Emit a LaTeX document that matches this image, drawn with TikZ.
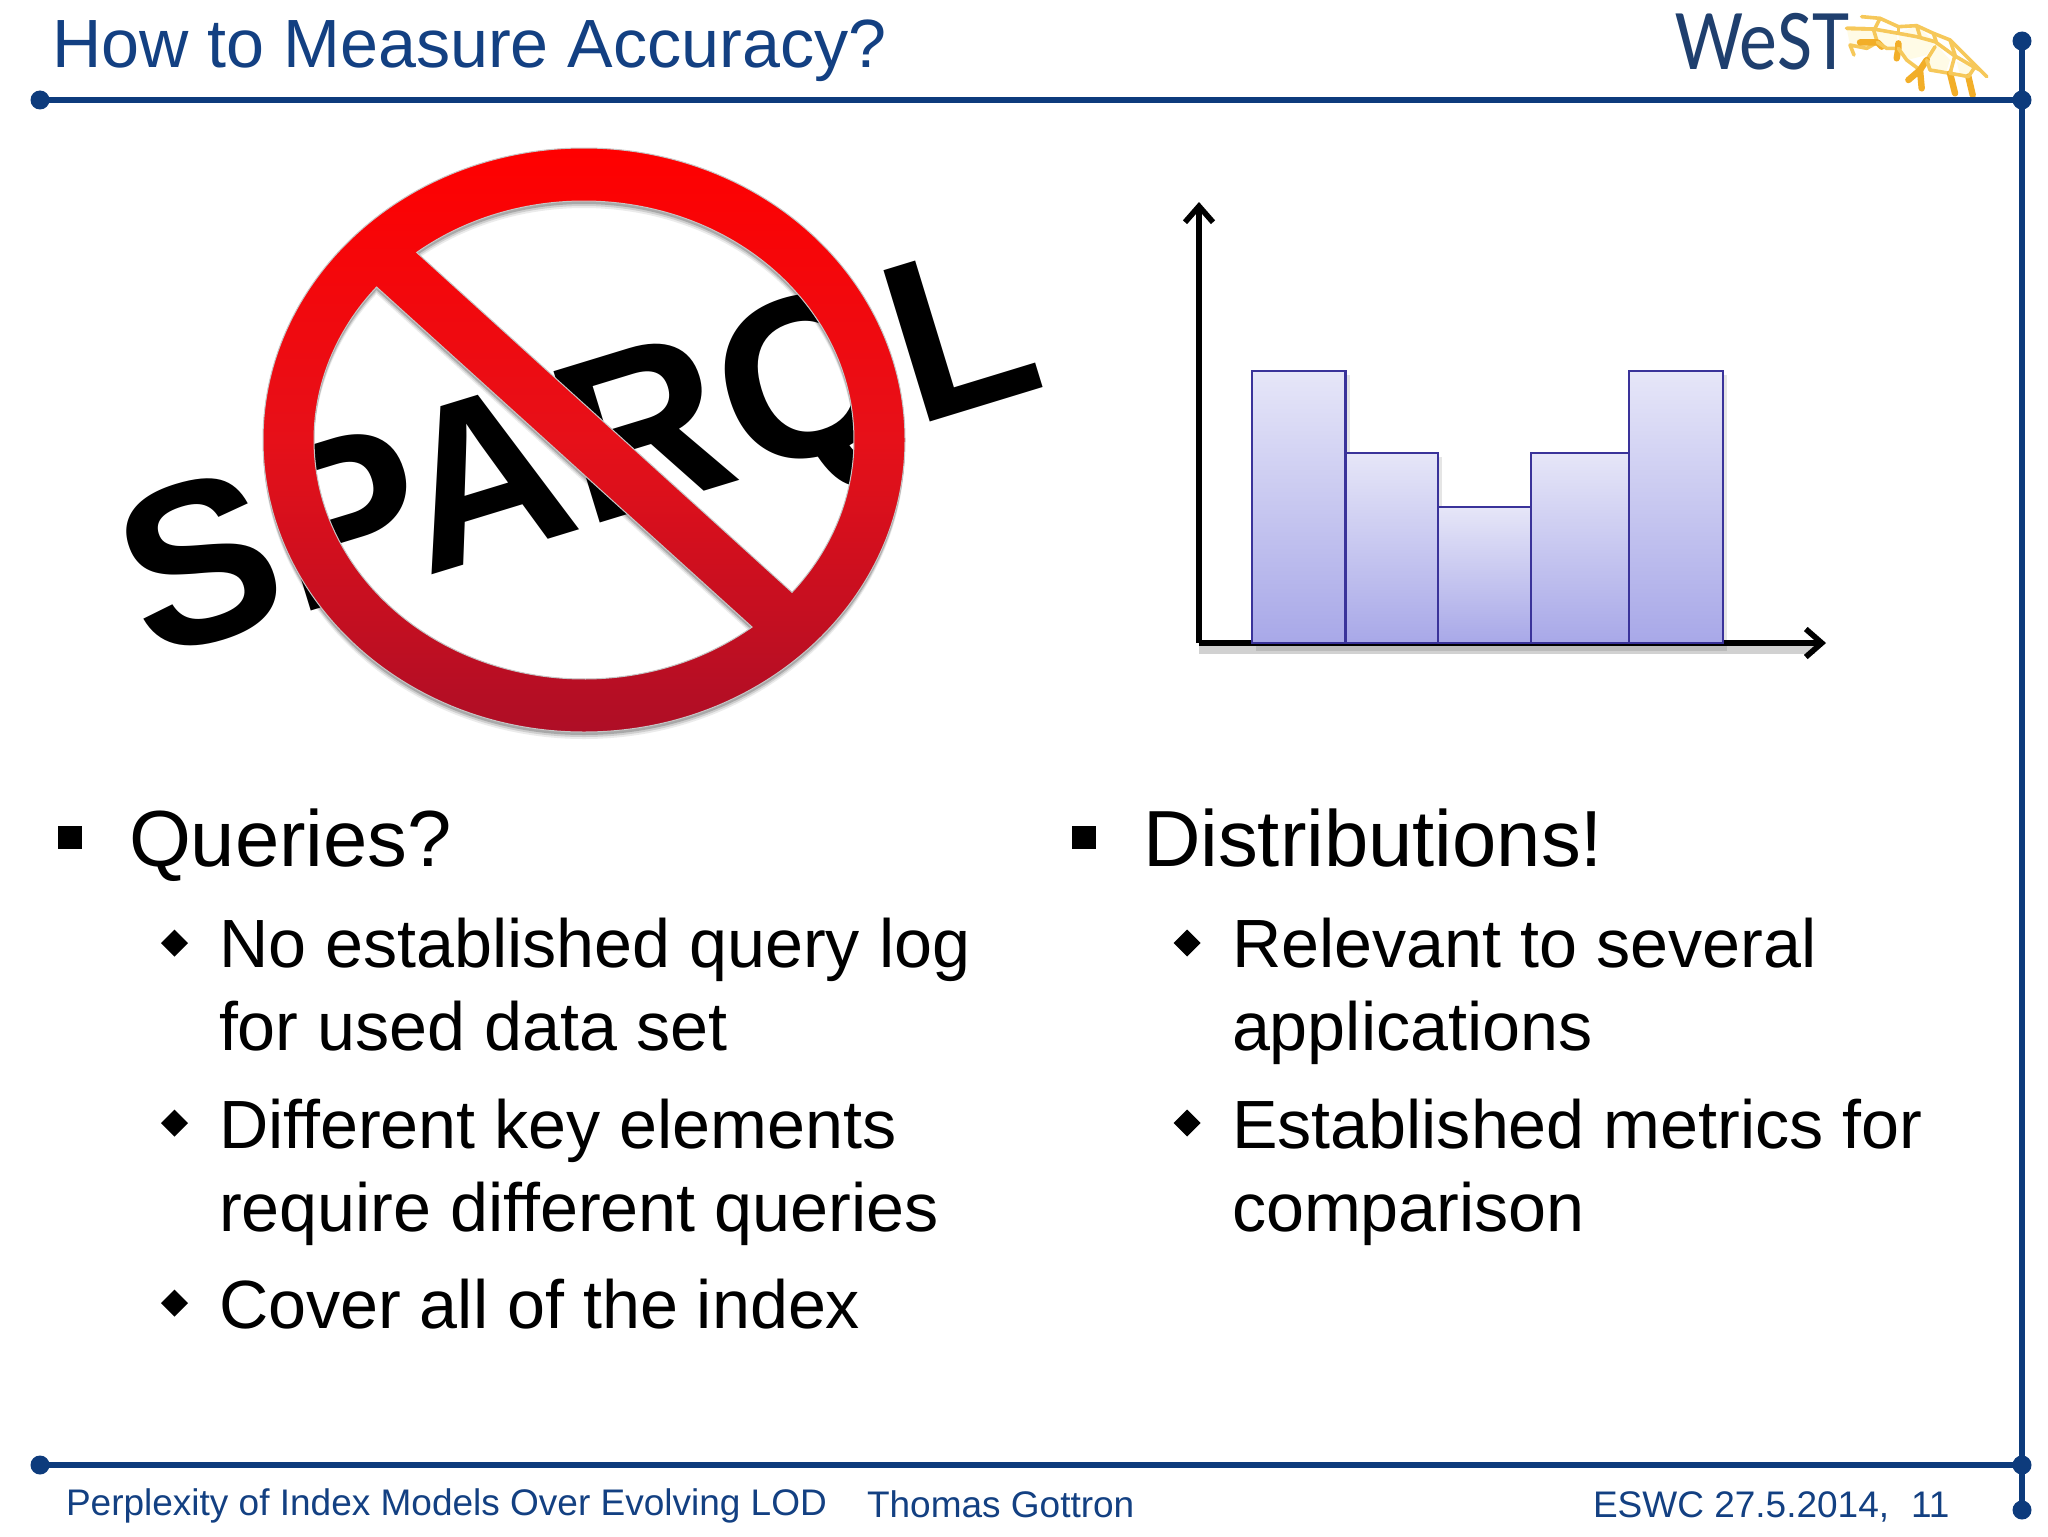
\documentclass[tikz,border=0pt]{standalone}
\usepackage{fontspec}
\setmainfont{Liberation Sans}
\newfontfamily\logofont{Carlito}
\usetikzlibrary{arrows.meta}
\definecolor{navy}{HTML}{0D3B7C}
\definecolor{titleblue}{HTML}{134082}
\definecolor{logonavy}{HTML}{1F3F6E}
\definecolor{barline}{HTML}{3A339A}
\definecolor{net}{HTML}{F2AE28}
\definecolor{netthin}{HTML}{F6C85A}
\definecolor{netcell}{HTML}{FFFBE6}
\definecolor{barfill}{HTML}{A8A8E8}
\definecolor{bartop}{HTML}{E6E6F8}
\definecolor{ringmid}{HTML}{E61019}
\definecolor{ringbot}{HTML}{AE0E26}
\tikzset{
  px/.style={x=0.5pt,y=-0.5pt},
  txt/.style={anchor=base west,inner sep=0pt,outer sep=0pt},
  title/.style={txt,text=titleblue,font=\fontsize{34.13}{40}\selectfont},
  lvlone/.style={txt,text=black,font=\fontsize{39.8}{46}\selectfont},
  lvltwo/.style={txt,text=black,font=\fontsize{34.13}{40}\selectfont},
  foot/.style={txt,text=titleblue,font=\fontsize{18.5}{22}\selectfont},
  rule/.style={draw=navy,line width=3.2pt},
  dot/.style={fill=navy},
  axis/.style={draw=black,line width=3pt,-{Straight Barb[length=8pt,width=14pt,line width=2.8pt]}},
  netthick/.style={draw=net,line width=3.2pt,line cap=round,line join=round},
  netfine/.style={draw=netthin,line width=1.8pt,line cap=round,line join=round},
}
\begin{document}
\begin{tikzpicture}[px]
\useasboundingbox (0,0) rectangle (2048,1536);
\fill[white] (0,0) rectangle (2048,1536);
% logo net
\begin{scope}[shift={(1840,5)},x=0.1667pt,y=-0.1667pt]
\fill[netcell] (20,70) -- (100,75) -- (110,110) -- (80,130) -- (30,120) -- cycle;
\fill[netcell] (105,70) -- (170,90) -- (175,130) -- (140,135) -- (115,100) -- cycle;
\fill[netcell] (175,85) -- (230,62) -- (285,110) -- (260,150) -- (200,165) -- (180,125) -- cycle;
\fill[netcell] (290,120) -- (330,165) -- (320,195) -- (270,195) -- (255,165) -- cycle;
\fill[netcell] (350,170) -- (400,185) -- (390,215) -- (360,210) -- cycle;
\draw[netfine] (65,35) -- (120,40) -- (175,65) -- (230,62) -- (280,85) -- (330,105) -- (390,165) -- (440,215);
\draw[netfine] (20,70) -- (100,72) -- (175,85) -- (230,95) -- (285,110) -- (340,150) -- (400,185) -- (420,195);
\draw[netfine] (120,40) -- (105,70);
\draw[netfine] (175,65) -- (175,85);
\draw[netfine] (230,62) -- (240,95);
\draw[netfine] (280,85) -- (290,115);
\draw[netfine] (330,105) -- (345,150);
\draw[netfine] (20,70) -- (100,72) -- (112,112) -- (80,130) -- (30,120) -- (42,150);
\draw[netthick] (60,112) -- (112,112) -- (125,125);
\draw[netfine] (112,112) -- (140,130) -- (175,130);
\draw[netthick] (175,115) -- (175,130) -- (170,160);
\draw[netfine] (175,130) -- (200,165) -- (240,195) -- (260,165) -- (285,125);
\draw[netthick] (205,225) -- (240,195) -- (245,250);
\draw[netthick] (240,195) -- (260,165);
\draw[netfine] (260,165) -- (270,195) -- (330,205);
\draw[netthick] (330,205) -- (345,265);
\draw[netfine] (330,205) -- (345,150);
\draw[netthick] (385,215) -- (398,270);
\draw[netfine] (330,205) -- (360,210) -- (385,215) -- (405,185);
\end{scope}
% frame
\draw[rule] (40,100) -- (2022,100);
\draw[rule] (40,1465) -- (2022,1465);
\draw[rule] (2022,41) -- (2022,1510);
\foreach \p in {(40,100),(2022,100),(40,1465),(2022,1465),(2022,41),(2022,1510)} \fill[dot] \p circle (9.5);
% title
\node[title] (ttl) at (52,68) {How to Measure Accuracy?};
% logo
\node[txt,text=logonavy,font=\fontsize{38}{44}\logofont] (logo) at (1675,70) {\scalebox{1}[1.14]{WeST}};
% SPARQL
\node[rotate=17,font=\fontsize{115}{126}\selectfont\bfseries,text=black,inner sep=0pt] (sparql) at (583,468) {SPARQL};
% no-sign
\def\signpath{(584,440) ellipse [x radius=321,y radius=292]
  (584,440) ++(-128.3:270 and 239) arc [start angle=-128.3,end angle=39.6,x radius=270,y radius=239] -- cycle
  (584,440) ++(51.5:270 and 239) arc [start angle=51.5,end angle=219.8,x radius=270,y radius=239] -- cycle}
\foreach \d/\o in {7/.08,5/.12,3/.18}{
  \begin{scope}[yshift=-\d*0.5pt]
  \fill[black,opacity=\o,even odd rule] \signpath;
  \end{scope}
}
\begin{scope}
\pgfseteorule
\clip \signpath;
\shade[top color=red,bottom color=ringbot,middle color=ringmid] (200,148) rectangle (1000,733);
\end{scope}
\draw[draw=gray!45,line width=.5pt] \signpath;
% histogram
\foreach \a/\b/\t in {1252/1345.5/371,1345.5/1438/453,1438/1531/507,1531/1629/453,1629/1723/371}{
  \fill[black,opacity=.10] (\a+4,\t+4) rectangle (\b+4,651);
}
\coordinate (xo) at (1199,643);
\coordinate (ytip) at (1199,202);
\coordinate (xtip) at (1826,643);
\fill[black,opacity=.18] (1199,646) rectangle (1815,654);
\draw[axis] (xo) -- (ytip);
\draw[axis] (xo) -- (xtip);
\foreach \a/\b/\t in {1252/1345.5/371,1345.5/1438/453,1438/1531/507,1531/1629/453,1629/1723/371}{
  \draw[draw=barline,line width=1.2pt,top color=bartop,bottom color=barfill] (\a,\t) rectangle (\b,643);
}
% left column
\fill[black] (58,826) rectangle (82,849);
\node[lvlone] (q) at (129,866) {Queries?};
\foreach \y in {943,1123,1303}{ \fill[black] (174.5,\y-13.5) -- (188,\y) -- (174.5,\y+13.5) -- (161,\y) -- cycle; }
\node[lvltwo] (l1) at (219,967) {No established query log};
\node[lvltwo] (l2) at (219,1050) {for used data set};
\node[lvltwo] (l3) at (219,1148) {Different key elements};
\node[lvltwo] (l4) at (219,1231) {require different queries};
\node[lvltwo] (l5) at (219,1328) {Cover all of the index};
% right column
\fill[black] (1072,826) rectangle (1096,849);
\node[lvlone] (d) at (1143,866) {Distributions!};
\foreach \y in {943,1123}{ \fill[black] (1187,\y-13.5) -- (1200.5,\y) -- (1187,\y+13.5) -- (1173.5,\y) -- cycle; }
\node[lvltwo] (r1) at (1232,967) {Relevant to several};
\node[lvltwo] (r2) at (1232,1050) {applications};
\node[lvltwo] (r3) at (1232,1148) {Established metrics for};
\node[lvltwo] (r4) at (1232,1231) {comparison};
% footer
\node[foot] (f1) at (66,1515) {Perplexity of Index Models Over Evolving LOD};
\node[foot] (f2) at (867,1517) {Thomas Gottron};
\node[foot] (f3) at (1593,1517) {ESWC 27.5.2014,};
\node[foot] (f4) at (1911,1517) {11};
\end{tikzpicture}
\end{document}
